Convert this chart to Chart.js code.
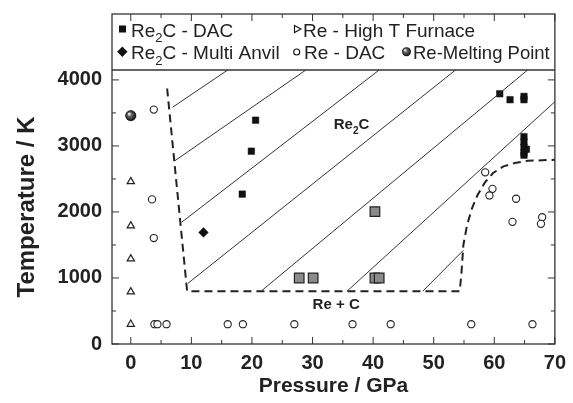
<!DOCTYPE html>
<html lang="en">
<head>
<meta charset="UTF-8">
<title>Re-C phase diagram</title>
<script src="https://cdn.jsdelivr.net/npm/chart.js"></script>
<style>
  html, body { margin: 0; padding: 0; background: #fff; }
  #wrap { width: 573px; height: 403px; }
</style>
</head>
<body>
<div id="wrap"><canvas id="grafico"></canvas></div>
<script>
// ticks
const xTicks = [0, 10, 20, 30, 40, 50, 60, 70];
const xMinor = [5, 15, 25, 35, 45, 55, 65];
const yTicks = [0, 1000, 2000, 3000, 4000];
const yMinor = [500, 1500, 2500, 3500];

// Re2C - DAC (black squares)
const re2cDacP = [20.6, 19.9, 18.4, 60.9, 62.6, 64.9, 64.9, 64.9, 64.9, 64.9, 64.9, 64.9, 65.3];
const re2cDacT = [3390, 2920, 2270, 3790, 3700, 3750, 3700, 3140, 3060, 2980, 2900, 2860, 2950];

// grey squares
const greyP = [27.8, 30.1, 40.3, 40.3, 41.0];
const greyT = [1000, 1000, 2005, 1000, 1000];

// Re2C - Multi Anvil
const anvilP = [12.0];
const anvilT = [1690];

// Re - High T Furnace
const furnaceP = [0, 0, 0, 0, 0];
const furnaceT = [2460, 1790, 1290, 790, 300];

// Re - DAC (open circles)
const reDacP = [3.8, 3.5, 3.8, 3.9, 4.4, 5.9, 16.0, 18.5, 27.0, 36.6, 42.9, 56.2, 66.3, 58.5, 59.7, 59.2, 63.6, 63.0, 67.9, 67.7];
const reDacT = [3550, 2190, 1605, 300, 300, 300, 300, 300, 300, 300, 300, 300, 300, 2600, 2350, 2250, 2200, 1850, 1920, 1820];

// Re melting point
const meltP = [0];
const meltT = [3459];

// dashed phase boundary
const boundP = [6.0, 9.3, 54.3, 54.6, 54.9, 55.5, 56.3, 57.2, 58.4, 59.8, 61.5, 63.4, 65.5, 70];
const boundT = [3870, 800, 800, 1100, 1500, 1800, 2050, 2250, 2440, 2590, 2690, 2740, 2775, 2790];

// solid guide lines [P0, T0, P1, T1]
const guideLines = [
  [6.9, 3586, 16.0, 4150],
  [7.3, 2777, 28.9, 4150],
  [8.4, 1844, 41.0, 4150],
  [9.45, 920, 53.6, 4150],
  [21.5, 800, 65.5, 4150],
  [35.7, 800, 70.0, 3670],
  [48.2, 800, 54.9, 1420]
];

const zip = (ps, ts) => ps.map((p, i) => ({ x: p, y: ts[i] }));

Chart.defaults.font.family = '"Liberation Sans", Arial, sans-serif';
Chart.defaults.color = '#222';

const ink = '#222';
const frameTop = 14;

const datasets = [];
guideLines.forEach(l => {
  datasets.push({
    type: 'line', data: [{ x: l[0], y: l[1] }, { x: l[2], y: l[3] }],
    borderColor: '#333', borderWidth: 1, pointRadius: 0, fill: false
  });
});
datasets.push({
  type: 'line', data: zip(boundP, boundT),
  borderColor: '#222', borderWidth: 2, borderDash: [8, 5], pointRadius: 0, fill: false, tension: 0
});
datasets.push({
  label: 'Re - High T Furnace', data: zip(furnaceP, furnaceT),
  pointStyle: 'triangle', pointRadius: 4.2, borderColor: ink, borderWidth: 1.2, backgroundColor: '#fff'
});
datasets.push({
  label: 'Re - DAC', data: zip(reDacP, reDacT),
  pointStyle: 'circle', pointRadius: 3.6, borderColor: ink, borderWidth: 1.1, backgroundColor: '#fff'
});
datasets.push({
  label: 'grey', data: zip(greyP, greyT),
  pointStyle: 'rect', pointRadius: 6.8, borderColor: '#222', borderWidth: 1.2, backgroundColor: '#8a8a8a'
});
datasets.push({
  label: 'Re2C - DAC', data: zip(re2cDacP, re2cDacT),
  pointStyle: 'rect', pointRadius: 4.6, borderColor: '#111', borderWidth: 0.5, backgroundColor: '#111'
});
datasets.push({
  label: 'Re2C - Multi Anvil', data: zip(anvilP, anvilT),
  pointStyle: 'rectRot', pointRadius: 4.8, borderColor: '#111', borderWidth: 0.5, backgroundColor: '#111'
});
const meltIndex = datasets.length;
datasets.push({
  label: 'Re-Melting Point', data: zip(meltP, meltT),
  pointStyle: 'circle', pointRadius: 5.2, borderColor: '#111', borderWidth: 0.5, backgroundColor: '#333'
});

function sphere(ctx, x, y, r) {
  const g = ctx.createRadialGradient(x - r * 0.35, y - r * 0.35, r * 0.1, x, y, r);
  g.addColorStop(0, '#e8e8e8');
  g.addColorStop(0.35, '#666');
  g.addColorStop(1, '#111');
  ctx.beginPath();
  ctx.arc(x, y, r, 0, Math.PI * 2);
  ctx.fillStyle = g;
  ctx.fill();
}

// text with subscript parts: [text, isSub]
function richText(ctx, x, y, parts, size, bold) {
  ctx.textBaseline = 'alphabetic';
  ctx.textAlign = 'left';
  parts.forEach(([t, sub]) => {
    const s = sub ? Math.round(size * 0.68) : size;
    ctx.font = (bold ? 'bold ' : '') + s + 'px "Liberation Sans", Arial, sans-serif';
    ctx.fillText(t, x, sub ? y + size * 0.3 : y);
    x += ctx.measureText(t).width;
  });
}

const decor = {
  id: 'decor',
  afterDatasetsDraw(chart) {
    const ctx = chart.ctx;
    const xs = chart.scales.x, ys = chart.scales.y;
    ctx.save();
    chart.getDatasetMeta(meltIndex).data.forEach(pt => sphere(ctx, pt.x, pt.y, 5.2));
    ctx.fillStyle = ink;
    richText(ctx, xs.getPixelForValue(33.5), ys.getPixelForValue(3250), [['Re'], ['2', true], ['C']], 15, true);
    ctx.font = 'bold 15px "Liberation Sans", Arial, sans-serif';
    ctx.textAlign = 'center';
    ctx.textBaseline = 'middle';
    ctx.fillText('Re + C', xs.getPixelForValue(33.9), ys.getPixelForValue(590));
    ctx.restore();
  },
  afterDraw(chart) {
    const ctx = chart.ctx;
    const a = chart.chartArea;
    const xs = chart.scales.x, ys = chart.scales.y;
    ctx.save();
    ctx.strokeStyle = '#333';
    ctx.lineWidth = 1.3;
    ctx.strokeRect(a.left, frameTop, a.right - a.left, a.bottom - frameTop);
    ctx.beginPath();
    ctx.moveTo(a.left, a.top);
    ctx.lineTo(a.right, a.top);
    ctx.stroke();
    // inward ticks
    ctx.lineWidth = 1;
    ctx.beginPath();
    const xt = (v, len) => {
      const px = xs.getPixelForValue(v);
      ctx.moveTo(px, a.bottom); ctx.lineTo(px, a.bottom - len);
      ctx.moveTo(px, frameTop); ctx.lineTo(px, frameTop + len);
    };
    const yt = (v, len) => {
      const py = ys.getPixelForValue(v);
      ctx.moveTo(a.left, py); ctx.lineTo(a.left + len, py);
      ctx.moveTo(a.right, py); ctx.lineTo(a.right - len, py);
    };
    xTicks.forEach(v => xt(v, 7));
    xMinor.forEach(v => xt(v, 4));
    yTicks.forEach(v => yt(v, 7));
    yMinor.forEach(v => yt(v, 4));
    ctx.stroke();

    // legend
    ctx.fillStyle = '#111';
    ctx.strokeStyle = '#111';
    ctx.fillRect(119, 25.5, 7, 7);
    ctx.beginPath();
    ctx.moveTo(122.3, 46.5); ctx.lineTo(127.5, 51.7); ctx.lineTo(122.3, 57); ctx.lineTo(117.2, 51.7);
    ctx.closePath(); ctx.fill();
    ctx.lineWidth = 1.1;
    ctx.beginPath();
    ctx.moveTo(294.5, 25.5); ctx.lineTo(301, 29); ctx.lineTo(294.5, 32.5);
    ctx.closePath(); ctx.stroke();
    ctx.beginPath();
    ctx.arc(296.7, 52, 3, 0, Math.PI * 2);
    ctx.stroke();
    sphere(ctx, 406.5, 51.7, 4.5);
    ctx.fillStyle = ink;
    richText(ctx, 131, 36.5, [['Re'], ['2', true], ['C - DAC']], 19, false);
    richText(ctx, 131, 59, [['Re'], ['2', true], ['C - Multi Anvil']], 19, false);
    richText(ctx, 303, 36.5, [['Re - High T Furnace']], 19, false);
    richText(ctx, 304, 59, [['Re - DAC']], 19, false);
    richText(ctx, 413, 59, [['Re-Melting Point']], 18.5, false);
    ctx.restore();
  }
};

new Chart(document.getElementById('grafico'), {
  type: 'scatter',
  data: { datasets: datasets },
  options: {
    responsive: true,
    maintainAspectRatio: false,
    animation: false,
    layout: { padding: { top: 70, right: 13, left: 0, bottom: 0 } },
    plugins: { legend: { display: false }, tooltip: { enabled: false } },
    scales: {
      x: {
        type: 'linear', min: -3.1, max: 70,
        grid: { display: false, tickLength: 0 }, border: { display: false },
        afterBuildTicks: s => { s.ticks = xTicks.map(v => ({ value: v })); },
        afterFit: s => { s.height = 59; },
        ticks: { padding: 7, font: { size: 20, weight: 'bold' }, color: ink, callback: v => String(v) },
        title: { display: true, text: 'Pressure / GPa', font: { size: 21, weight: 'bold' }, color: ink, padding: { top: 0, bottom: 4 } }
      },
      y: {
        type: 'linear', min: 0, max: 4150,
        grid: { display: false, tickLength: 0 }, border: { display: false },
        afterBuildTicks: s => { s.ticks = yTicks.map(v => ({ value: v })); },
        afterFit: s => { s.width = 112; },
        ticks: { padding: 10, font: { size: 20, weight: 'bold' }, color: ink, callback: v => String(v) },
        title: { display: true, text: 'Temperature / K', font: { size: 24, weight: 'bold' }, color: ink, padding: { top: 13, bottom: 0 } }
      }
    }
  },
  plugins: [decor]
});
</script>
</body>
</html>
